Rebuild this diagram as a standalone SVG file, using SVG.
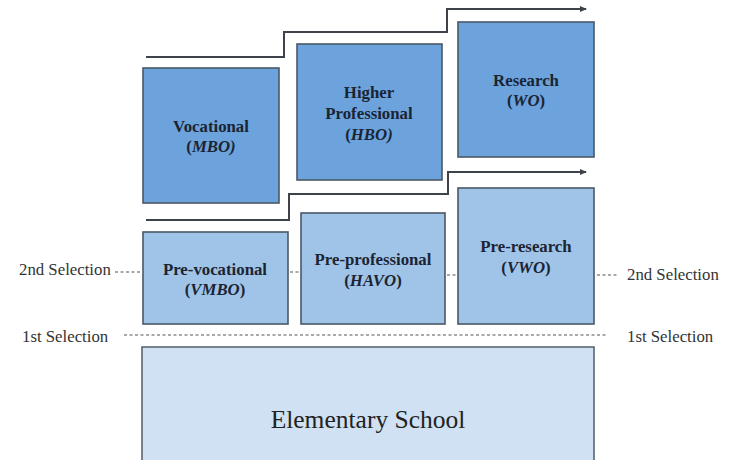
<svg xmlns="http://www.w3.org/2000/svg" width="729" height="460" viewBox="0 0 729 460">
<style>
.up{fill:#6ca3dc;stroke:#4a5866;stroke-width:1.6}
.lo{fill:#a0c4e8;stroke:#4a5866;stroke-width:1.6}
.el{fill:#cfe1f2;stroke:#5a6672;stroke-width:1.6}
.bt{font-family:'Liberation Serif','Times New Roman','DejaVu Serif',serif;font-weight:bold;font-size:16.8px;fill:#1b2433;text-anchor:middle}
.it{font-style:italic}
.lb{font-family:'Liberation Serif','Times New Roman','DejaVu Serif',serif;font-size:16.8px;fill:#333}
.es{font-family:'Liberation Serif','Times New Roman','DejaVu Serif',serif;font-size:25.5px;fill:#222;text-anchor:middle}
.path{fill:none;stroke:#3d4348;stroke-width:2}
.dash{fill:none;stroke:#555;stroke-width:1.2;stroke-dasharray:3,2.5}
</style>
<defs>
<marker id="ah" markerWidth="8" markerHeight="8" refX="6" refY="3" orient="auto" markerUnits="userSpaceOnUse">
<path d="M0,0 L7,3 L0,6 z" fill="#3d4348"/>
</marker>
</defs>
<rect width="729" height="460" fill="#fff"/>
<g id="connectors">
<path class="path" d="M146,57 H284 V32 H447 V9 H586" marker-end="url(#ah)"/>
<path class="path" d="M146,220 H289 V194 H448 V172 H586" marker-end="url(#ah)"/>
<path class="dash" d="M115,272 H142"/>
<path class="dash" d="M290,272 H300"/>
<path class="dash" d="M447,275 H457"/>
<path class="dash" d="M597,275 H619"/>
<path class="dash" d="M124,335 H608"/>
</g>
<g id="mbo">
<rect class="up" x="143" y="68" width="136" height="135"/>
<text class="bt" x="211" y="132">Vocational</text>
<text class="bt" x="211" y="152">(<tspan class="it">MBO)</tspan></text>
</g>
<g id="hbo">
<rect class="up" x="297" y="44" width="145" height="136"/>
<text class="bt" x="369" y="98">Higher</text>
<text class="bt" x="369" y="119">Professional</text>
<text class="bt" x="369" y="140">(<tspan class="it">HBO)</tspan></text>
</g>
<g id="wo">
<rect class="up" x="458" y="22" width="136" height="135"/>
<text class="bt" x="526" y="86">Research</text>
<text class="bt" x="526" y="106">(<tspan class="it">WO</tspan>)</text>
</g>
<g id="vmbo">
<rect class="lo" x="143" y="232" width="145" height="92"/>
<text class="bt" x="215" y="275">Pre-vocational</text>
<text class="bt" x="215" y="295">(<tspan class="it">VMBO</tspan>)</text>
</g>
<g id="havo">
<rect class="lo" x="301" y="213" width="144" height="111"/>
<text class="bt" x="373" y="265">Pre-professional</text>
<text class="bt" x="373" y="286">(<tspan class="it">HAVO</tspan>)</text>
</g>
<g id="vwo">
<rect class="lo" x="458" y="188" width="136" height="136"/>
<text class="bt" x="526" y="252">Pre-research</text>
<text class="bt" x="526" y="273">(<tspan class="it">VWO</tspan>)</text>
</g>
<g id="elementary">
<rect class="el" x="142" y="347" width="452" height="120"/>
<text class="es" x="368" y="428">Elementary School</text>
</g>
<g id="labels">
<text class="lb" x="19" y="275">2nd Selection</text>
<text class="lb" x="627" y="280">2nd Selection</text>
<text class="lb" x="22" y="342">1st Selection</text>
<text class="lb" x="627" y="342">1st Selection</text>
</g>
</svg>
